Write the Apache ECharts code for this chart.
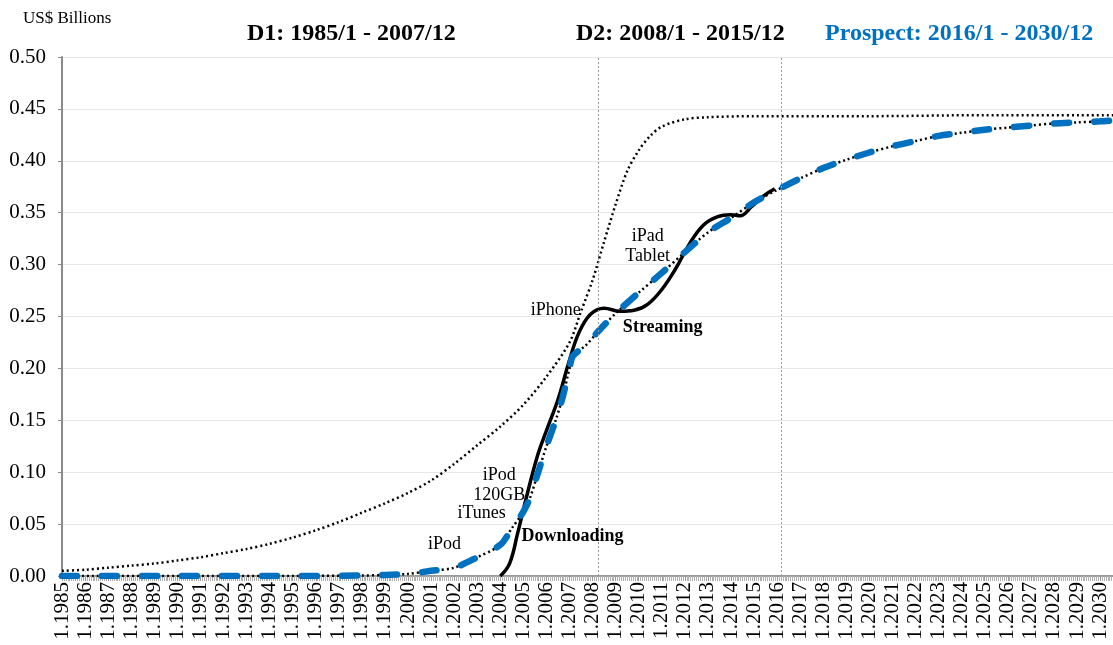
<!DOCTYPE html>
<html>
<head>
<meta charset="utf-8">
<script src="https://cdn.jsdelivr.net/npm/echarts@6/dist/echarts.min.js"></script>
<style>
html, body { margin: 0; padding: 0; background: #fff; }
#chart { width: 1113px; height: 645px; }
</style>
</head>
<body>
<div id="chart"></div>
<script>
// D1 fitted curve (black dotted)
var d1Years = [1985,1986,1987,1988,1989,1990,1991,1992,1993,1994,1995,1996,1997,1998,1999,2000,2001,2002,2003,2004,2005,2006,2007,2007.5,2008,2008.5,2009,2009.5,2010,2010.5,2011,2012,2013,2015,2020,2025,2030.56];
var d1Vals  = [0.005,0.006,0.008,0.010,0.012,0.015,0.018,0.022,0.026,0.031,0.037,0.044,0.052,0.061,0.070,0.080,0.092,0.108,0.126,0.144,0.165,0.192,0.225,0.255,0.285,0.322,0.358,0.390,0.410,0.424,0.433,0.440,0.442,0.443,0.443,0.444,0.444];

// actual revenue (black solid)
var actYears = [2004.0,2004.4,2004.75,2005.1,2005.6,2006.0,2006.5,2007.0,2007.4,2007.9,2008.5,2009.2,2009.8,2010.4,2011.0,2011.6,2012.2,2012.8,2013.4,2014.0,2014.4,2014.9,2015.4,2015.9];
var actVals  = [0.000,0.012,0.041,0.073,0.115,0.140,0.170,0.208,0.234,0.252,0.258,0.255,0.256,0.262,0.276,0.296,0.320,0.338,0.346,0.348,0.347,0.356,0.366,0.373];

// prospect curve (blue dashed over black dotted)
var proYears = [1985,1990,1995,1998,1999,2000,2001,2002,2003,2004,2004.5,2005,2005.3,2005.6,2006,2006.4,2006.7,2007.0,2007.15,2007.7,2008.3,2009,2010,2011,2012,2013,2014,2015,2016,2017,2018,2019,2020,2021,2022,2023,2024,2025,2026,2027,2028,2029,2030,2030.56];
var proVals  = [0,0,0,0.0005,0.001,0.002,0.005,0.008,0.018,0.030,0.046,0.062,0.076,0.097,0.125,0.150,0.172,0.200,0.212,0.222,0.237,0.253,0.273,0.292,0.312,0.331,0.345,0.360,0.372,0.383,0.393,0.401,0.408,0.414,0.419,0.424,0.427,0.430,0.432,0.434,0.436,0.437,0.438,0.439];

// period boundaries
var periodLines = [2008.26, 2016.16];

// annotations
var annText = ['iPod', 'iTunes', 'iPod\n120GB', 'Downloading', 'iPhone', 'Streaming', 'iPad\nTablet'];
var annX    = [2001.58, 2003.19, 2003.95, 2007.13, 2006.4, 2011.04, 2010.39];
var annY    = [0.031, 0.060, 0.087, 0.038, 0.256, 0.240, 0.318];
var annBold = [false, false, false, true, false, true, false];

var SERIF = '"Liberation Serif", "Times New Roman", serif';

function pairs(xs, ys) {
	var out = [];
	for (var i = 0; i < xs.length; i++) out.push([xs[i], ys[i]]);
	return out;
}

var annPoints = [];
for (var i = 0; i < annText.length; i++) {
	annPoints.push({
		coord: [annX[i], annY[i]],
		symbolSize: 0,
		label: {
			show: true,
			position: 'inside',
			formatter: annText[i],
			fontFamily: SERIF,
			fontSize: 18,
			lineHeight: 20,
			fontWeight: annBold[i] ? 'bold' : 'normal',
			color: '#000'
		}
	});
}

var myChart = echarts.init(document.getElementById('chart'));
var option = {
	animation: false,
	backgroundColor: '#fff',
	title: [
		{ text: 'US$ Billions', left: 23, top: 10, padding: 0,
		  textStyle: { fontFamily: SERIF, fontSize: 17, fontWeight: 'normal', color: '#000' } },
		{ text: 'D1: 1985/1 - 2007/12', left: 247, top: 22, padding: 0,
		  textStyle: { fontFamily: SERIF, fontSize: 24, fontWeight: 'bold', color: '#000' } },
		{ text: 'D2: 2008/1 - 2015/12', left: 576, top: 22, padding: 0,
		  textStyle: { fontFamily: SERIF, fontSize: 24, fontWeight: 'bold', color: '#000' } },
		{ text: 'Prospect: 2016/1 - 2030/12', left: 825, top: 22, padding: 0,
		  textStyle: { fontFamily: SERIF, fontSize: 24, fontWeight: 'bold', color: '#0070C0' } }
	],
	grid: { left: 62, right: 0, top: 57, bottom: 69, containLabel: false },
	xAxis: {
		type: 'value',
		min: 1985,
		max: 2030.56,
		interval: 1,
		axisLine: { show: true, onZero: false, lineStyle: { color: '#9a9a9a', width: 2 } },
		axisTick: { show: true, length: 5, lineStyle: { color: '#9a9a9a', width: 1 } },
		minorTick: { show: true, splitNumber: 12, length: 5, lineStyle: { color: '#b0b0b0', width: 1 } },
		splitLine: { show: false },
		axisLabel: {
			rotate: 90,
			margin: 6,
			fontFamily: SERIF,
			fontSize: 21,
			color: '#000',
			showMaxLabel: false,
			formatter: function (v) {
				return Math.abs(v - Math.round(v)) < 1e-6 ? '1.' + Math.round(v) : '';
			}
		}
	},
	yAxis: {
		type: 'value',
		min: 0,
		max: 0.5,
		interval: 0.05,
		axisLine: { show: true, lineStyle: { color: '#8a8a8a', width: 2 } },
		axisTick: { show: true, length: 4, lineStyle: { color: '#8a8a8a' } },
		splitLine: { show: true, lineStyle: { color: '#e6e6e6', width: 1 } },
		axisLabel: {
			margin: 16,
			fontFamily: SERIF,
			fontSize: 21,
			color: '#000',
			formatter: function (v) { return v.toFixed(2); }
		}
	},
	series: [
		{
			name: 'D1',
			type: 'line',
			data: pairs(d1Years, d1Vals),
			showSymbol: false,
			smooth: 0.3,
			lineStyle: { color: '#000', width: 2.5, type: [2, 3] },
			markLine: {
				silent: true,
				symbol: 'none',
				label: { show: false },
				lineStyle: { color: '#9a9a9a', width: 1, type: [2, 2] },
				data: periodLines.map(function (v) { return { xAxis: v }; })
			},
			markPoint: { silent: true, data: annPoints }
		},
		{
			name: 'Prospect fit',
			type: 'line',
			data: pairs(proYears, proVals),
			showSymbol: false,
			smooth: 0.3,
			lineStyle: { color: '#000', width: 2.5, type: [2, 3] }
		},
		{
			name: 'Actual',
			type: 'line',
			data: pairs(actYears, actVals),
			showSymbol: false,
			smooth: 0.4,
			lineStyle: { color: '#000', width: 3.5 }
		},
		{
			name: 'Prospect',
			type: 'line',
			data: pairs(proYears, proVals),
			showSymbol: false,
			smooth: 0.3,
			lineStyle: { color: '#0070C0', width: 6.5, type: [15, 25], cap: 'round' }
		}
	]
};
myChart.setOption(option);
</script>
</body>
</html>
